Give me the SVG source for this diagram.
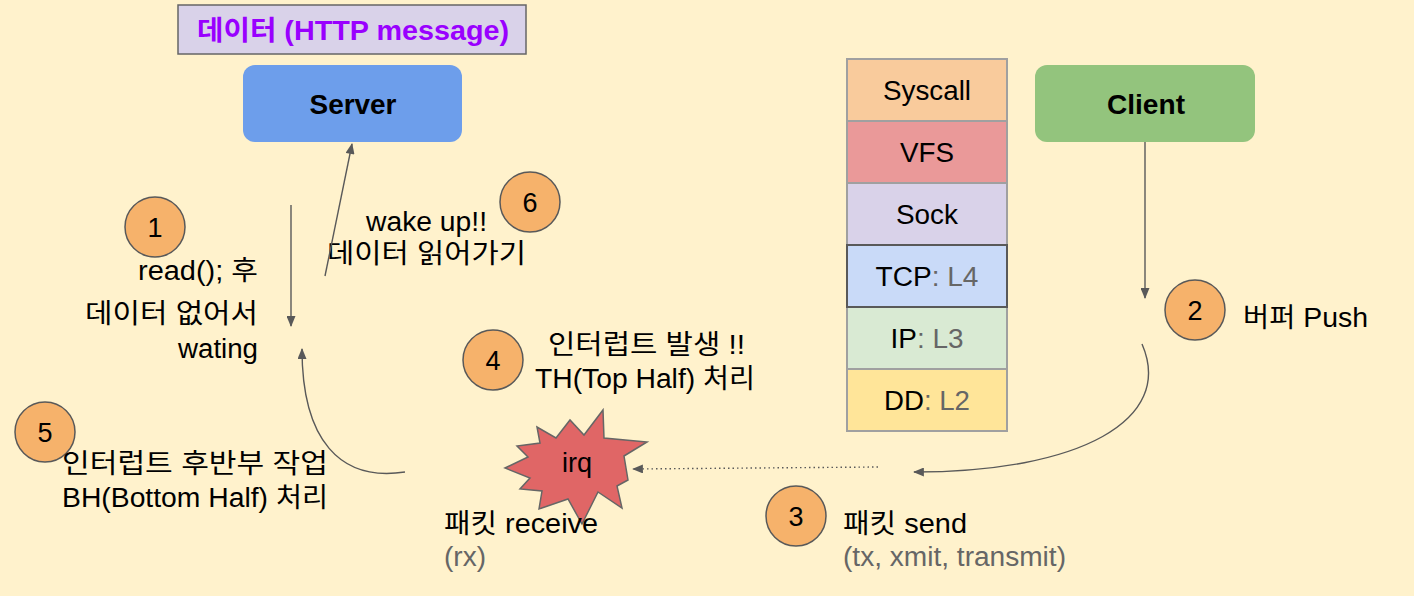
<svg xmlns="http://www.w3.org/2000/svg" width="1414" height="596" viewBox="0 0 1414 596">
<defs>
<marker id="ah" viewBox="0 0 12 10" refX="11" refY="5" markerWidth="12" markerHeight="9" markerUnits="userSpaceOnUse" orient="auto">
<path d="M0,0 L12,5 L0,10 z" fill="#595959"/>
</marker>
</defs>
<style>
text{font-family:"Liberation Sans","Noto Sans CJK KR",sans-serif;font-size:27px;fill:#000}
.b{font-weight:bold}
.g{fill:#666}
.m{text-anchor:middle}
.e{text-anchor:end}
.c{fill:#f6b26b;stroke:#595959;stroke-width:1.5}
.lay{stroke:#a0a0a0;stroke-width:2}
.con{fill:none;stroke:#595959;stroke-width:1.4}
</style>
<rect width="1414" height="596" fill="#fff2cc"/>

<g id="title">
<rect x="178" y="5" width="348" height="49" fill="#d9d2e9" stroke="#666" stroke-width="1.5"/>
<text x="353" y="40" class="b m" style="fill:#9900ff" textLength="312" lengthAdjust="spacingAndGlyphs">데이터 (HTTP message)</text>
</g>
<g id="server">
<rect x="243" y="65" width="219" height="77" rx="12" fill="#6d9eeb"/>
<text x="353" y="114" class="b m" textLength="87" lengthAdjust="spacingAndGlyphs">Server</text>
</g>
<g id="client">
<rect x="1035" y="65" width="220" height="77" rx="12" fill="#93c47d"/>
<text x="1146" y="114" class="b m" textLength="78" lengthAdjust="spacingAndGlyphs">Client</text>
</g>

<g id="stack">
<g id="syscall"><rect x="847" y="59" width="160" height="62" fill="#f9cb9c" class="lay"/><text x="927" y="100" class="m" textLength="88" lengthAdjust="spacingAndGlyphs">Syscall</text></g>
<g id="vfs"><rect x="847" y="121" width="160" height="62" fill="#ea9999" class="lay"/><text x="927" y="162" class="m" textLength="54" lengthAdjust="spacingAndGlyphs">VFS</text></g>
<g id="sock"><rect x="847" y="183" width="160" height="62" fill="#d9d2e9" class="lay"/><text x="927" y="224" class="m" textLength="62" lengthAdjust="spacingAndGlyphs">Sock</text></g>
<g id="ip"><rect x="847" y="307" width="160" height="62" fill="#d9ead3" class="lay"/><text x="927" y="348" class="m" textLength="73" lengthAdjust="spacingAndGlyphs">IP<tspan class="g">: L3</tspan></text></g>
<g id="dd"><rect x="847" y="369" width="160" height="62" fill="#ffe599" class="lay"/><text x="927" y="410" class="m" textLength="86" lengthAdjust="spacingAndGlyphs">DD<tspan class="g">: L2</tspan></text></g>
<g id="tcp"><rect x="847" y="245" width="160" height="62" fill="#c9daf8" stroke="#595959" stroke-width="2"/><text x="927" y="286" class="m" textLength="103" lengthAdjust="spacingAndGlyphs">TCP<tspan class="g">: L4</tspan></text></g>
</g>

<g id="irq">
<polygon points="505,468 528,457 517,446 540,443 537,427 556,438 570,420 584,435 603,410 604,438 647,442 624,456 628,480 617,486 622,508 598,492 582,524 568,499 539,509 542,491 520,489 530,478" fill="#e06666" stroke="#666" stroke-width="1.5"/>
<text x="577" y="472" class="m">irq</text>
</g>

<g id="step1"><circle cx="155" cy="227" r="30" class="c"/><text x="155" y="237" class="m">1</text></g>
<g id="step2"><circle cx="1195" cy="310" r="30" class="c"/><text x="1195" y="320" class="m">2</text></g>
<g id="step3"><circle cx="796" cy="516" r="30" class="c"/><text x="796" y="526" class="m">3</text></g>
<g id="step4"><circle cx="493" cy="360" r="30" class="c"/><text x="493" y="370" class="m">4</text></g>
<g id="step5"><circle cx="45" cy="432" r="30" class="c"/><text x="45" y="442" class="m">5</text></g>
<g id="step6"><circle cx="530" cy="202" r="30" class="c"/><text x="530" y="212" class="m">6</text></g>

<g id="labels">
<text x="258" y="280" class="e" textLength="120" lengthAdjust="spacingAndGlyphs">read(); 후</text>
<text x="258" y="323" class="e" textLength="173" lengthAdjust="spacingAndGlyphs">데이터 없어서</text>
<text x="258" y="358" class="e" textLength="80" lengthAdjust="spacingAndGlyphs">wating</text>
<text x="366" y="231" textLength="121" lengthAdjust="spacingAndGlyphs">wake up!!</text>
<text x="327" y="263" textLength="199" lengthAdjust="spacingAndGlyphs">데이터 읽어가기</text>
<text x="548" y="354" textLength="197" lengthAdjust="spacingAndGlyphs">인터럽트 발생 !!</text>
<text x="535" y="388" textLength="220" lengthAdjust="spacingAndGlyphs">TH(Top Half) 처리</text>
<text x="62" y="473" textLength="266" lengthAdjust="spacingAndGlyphs">인터럽트 후반부 작업</text>
<text x="62" y="507" textLength="266" lengthAdjust="spacingAndGlyphs">BH(Bottom Half) 처리</text>
<text x="444" y="533" textLength="154" lengthAdjust="spacingAndGlyphs">패킷 receive</text>
<text x="444" y="566" class="g" textLength="42" lengthAdjust="spacingAndGlyphs">(rx)</text>
<text x="1243" y="327" textLength="125" lengthAdjust="spacingAndGlyphs">버퍼 Push</text>
<text x="843" y="533" textLength="124" lengthAdjust="spacingAndGlyphs">패킷 send</text>
<text x="843" y="566" class="g" textLength="223" lengthAdjust="spacingAndGlyphs">(tx, xmit, transmit)</text>
</g>

<g id="connectors">
<line x1="291" y1="205" x2="291" y2="326" class="con" marker-end="url(#ah)"/>
<line x1="325" y1="276" x2="352" y2="144" class="con" marker-end="url(#ah)"/>
<path d="M405,472 C340,482 302,440 302,349" class="con" marker-end="url(#ah)"/>
<line x1="1145" y1="142" x2="1145" y2="298" class="con" marker-end="url(#ah)"/>
<path d="M1142,344 C1175,420 1080,472 914,472" class="con" marker-end="url(#ah)"/>
<line x1="878" y1="467" x2="633" y2="469" class="con" stroke-dasharray="1.5,3" marker-end="url(#ah)"/>
</g>
</svg>
